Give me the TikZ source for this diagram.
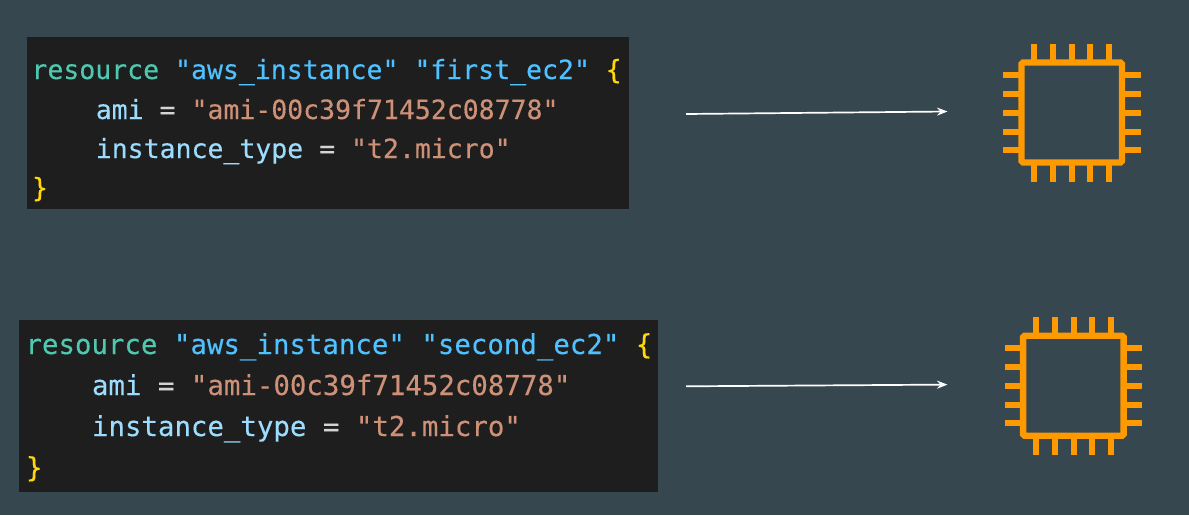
\documentclass[tikz,border=0pt]{standalone}
\usepackage{fontspec}
\setmonofont[FakeBold=0.25]{DejaVu Sans Mono}
\usetikzlibrary{arrows.meta}
\definecolor{bgc}{HTML}{37474F}
\definecolor{codebg}{HTML}{1E1E1E}
\definecolor{kw}{HTML}{4EC9B0}
\definecolor{str}{HTML}{4FC1FF}
\definecolor{attr}{HTML}{9CDCFE}
\definecolor{val}{HTML}{CE9178}
\definecolor{plain}{HTML}{D4D4D4}
\definecolor{brace}{HTML}{FFD70A}
\definecolor{chip}{HTML}{FF9900}
\tikzset{
  x=1pt,y=-1pt,
  codeline/.style={anchor=base west,inner sep=0pt,outer sep=0pt,font=\ttfamily},
  codebox/.style={fill=codebg,draw=none},
  flow/.style={draw=white,line width=1.7pt,-{Stealth[length=10.5pt,width=8pt,inset=3.5pt]}},
  chipicon/.pic={
    \draw[chip,line width=6.3pt,rounded corners=1.5pt] (1021.5,62.5) rectangle (1122,162.5);
    \foreach \p in {1034,1053,1072,1090,1109}{
      \draw[chip,line width=6.2pt] (\p,44) -- (\p,60);
      \draw[chip,line width=6.2pt] (\p,165) -- (\p,181.5);
    }
    \foreach \p in {75,94,113,132,150}{
      \draw[chip,line width=6.2pt] (1003,\p) -- (1019,\p);
      \draw[chip,line width=6.2pt] (1124,\p) -- (1140.5,\p);
    }
  }
}
\begin{document}
\begin{tikzpicture}
\useasboundingbox (0,0) rectangle (1189,515);
\fill[bgc] (0,0) rectangle (1189,515);
\path[codebox] (27,37) rectangle (629,209);
\path[codebox] (19,320) rectangle (658,492);
\newcommand{\fa}{\fontsize{26.5}{30}\selectfont}
\newcommand{\fb}{\fontsize{27.4}{30}\selectfont}
\node[codeline] (a1) at (31.5,79) {\fa\textcolor{kw}{resource} \textcolor{str}{"aws\_instance"} \textcolor{str}{"first\_ec2"} \textcolor{brace}{\{}};
\node[codeline] (a2) at (32,119) {\fa\phantom{xxxx}\textcolor{attr}{ami} \textcolor{plain}{=} \textcolor{val}{"ami-00c39f71452c08778"}};
\node[codeline] (a3) at (32,158) {\fa\phantom{xxxx}\textcolor{attr}{instance\_type} \textcolor{plain}{=} \textcolor{val}{"t2.micro"}};
\node[codeline] (a4) at (32,197) {\fa\textcolor{brace}{\}}};
\node[codeline] (b1) at (25.5,354) {\fb\textcolor{kw}{resource} \textcolor{str}{"aws\_instance"} \textcolor{str}{"second\_ec2"} \textcolor{brace}{\{}};
\node[codeline] (b2) at (26,395) {\fb\phantom{xxxx}\textcolor{attr}{ami} \textcolor{plain}{=} \textcolor{val}{"ami-00c39f71452c08778"}};
\node[codeline] (b3) at (26,436) {\fb\phantom{xxxx}\textcolor{attr}{instance\_type} \textcolor{plain}{=} \textcolor{val}{"t2.micro"}};
\node[codeline] (b4) at (26,477) {\fb\textcolor{brace}{\}}};
\pic at (0,0) {chipicon};
\pic at (1.6,273.3) {chipicon};
\coordinate (s1) at (686,114);
\coordinate (e1) at (947.5,111.5);
\coordinate (s2) at (686,386.3);
\coordinate (e2) at (947.5,384.6);
\draw[flow] (s1) -- (e1);
\draw[flow] (s2) -- (e2);
\end{tikzpicture}
\end{document}
